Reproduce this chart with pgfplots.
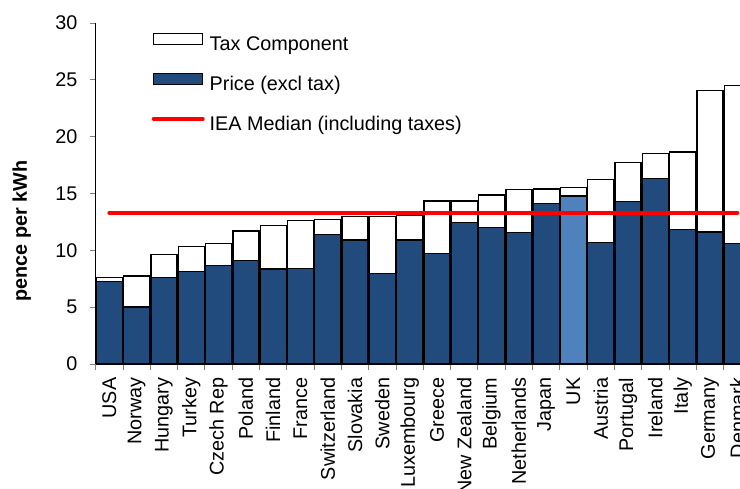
\documentclass[border=0pt]{standalone}
\usepackage{pgfplots}
\usepackage{pgfplotstable}
\pgfplotsset{compat=1.18}
\usepackage{fontspec}
\setmainfont{Liberation Sans}
\newcommand{\chartfont}{\fontsize{19.8bp}{24bp}\selectfont}
\definecolor{darkblue}{RGB}{33,74,125}
\definecolor{ukblue}{RGB}{79,129,189}
\definecolor{tickgray}{RGB}{128,128,128}

% idx price tax (pence per kWh)
\pgfplotstableread{
idx price tax
0  7.24 0.38
1  5.01 2.73
2  7.59 2.06
3  8.12 2.20
4  8.65 1.96
5  9.12 2.58
6  8.36 3.83
7  8.42 4.19
8  11.41 1.32
9  10.91 2.05
10 7.97 4.99
11 10.91 2.19
12 9.73 4.61
13 12.46 1.88
14 11.99 2.87
15 11.58 3.78
16 14.13 1.26
17 14.78 0.76
18 10.67 5.57
19 14.30 3.41
20 16.33 2.20
21 11.84 6.81
22 11.61 12.43
23 10.61 13.87
}\pricedata

\begin{document}
\begin{tikzpicture}
\useasboundingbox (-95.7bp,-125bp) rectangle (644.3bp,364bp);
\clip (-95.7bp,-125bp) rectangle (644.3bp,364bp);
\begin{axis}[
  at={(0,0)}, anchor=south west,
  scale only axis,
  width=655.2bp, height=341bp,
  xmin=-0.5, xmax=23.5, ymin=0, ymax=30,
  axis x line*=bottom, axis y line*=left,
  axis line style={black, line width=0.9bp},
  tick style={tickgray, line width=0.9bp},
  major tick length=6bp,
  tick align=outside,
  ytick={0,5,...,30},
  xtick={-0.5,0.5,...,23.5},
  x tick label as interval,
  xticklabels={USA,Norway,Hungary,Turkey,Czech Rep,Poland,Finland,France,Switzerland,Slovakia,Sweden,Luxembourg,Greece,New Zealand,Belgium,Netherlands,Japan,UK,Austria,Portugal,Ireland,Italy,Germany,Denmark},
  xticklabel style={rotate=90, anchor=east, inner sep=0pt, font=\chartfont},
  xticklabel shift=7.5bp,
  yticklabel style={inner sep=0pt, font=\chartfont},
  yticklabel shift=12bp,
  /pgf/number format/assume math mode=true,
  ylabel={pence per kWh},
  every axis y label/.style={at={(rel axis cs:0,0.3906)}, xshift=-74bp, rotate=90, anchor=center, font=\chartfont\bfseries},
  legend style={at={(0.0855,0.974)}, anchor=north west, draw=none, fill=none,
    inner sep=0pt, outer sep=0pt, row sep=17bp,
    nodes={inner sep=0pt, text height=14bp, text depth=4bp, font=\chartfont},
    /tikz/every odd column/.append style={column sep=5bp}},
  legend cell align=left,
]
\addlegendimage{legend image code/.code={\path[draw=none, fill=none] (0bp,-4bp) rectangle (49bp,14bp); \draw[black, fill=white, line width=1.3bp] (0bp,1.6bp) rectangle (49bp,12.6bp);}}
\addlegendentry{Tax Component}
\addlegendimage{legend image code/.code={\path[draw=none, fill=none] (0bp,-4bp) rectangle (49bp,14bp); \draw[black, fill=darkblue, line width=1.3bp] (0bp,1.6bp) rectangle (49bp,12.6bp);}}
\addlegendentry{Price (excl tax)}
\addlegendimage{legend image code/.code={\path[draw=none, fill=none] (0bp,-4bp) rectangle (49bp,14bp); \draw[red, line width=4bp, line cap=round] (0bp,7bp) -- (49bp,7bp);}}
\addlegendentry{IEA Median (including taxes)}

% total = price + tax (white, tax component shows above price)
\addplot[ybar, bar width=26bp, bar shift=0pt, fill=white, draw=black, line width=1.3bp, forget plot]
  table[x=idx, y expr=\thisrow{price}+\thisrow{tax}] {\pricedata};
\addplot[ybar, bar width=26bp, bar shift=0pt, fill=darkblue, draw=black, line width=1.3bp, forget plot]
  table[x=idx, y=price] {\pricedata};
\addplot[ybar, bar width=26bp, bar shift=0pt, fill=ukblue, draw=black, line width=1.3bp, forget plot]
  coordinates {(17,14.78)};
\addplot[red, line width=4bp, line cap=round, sharp plot, mark=none, forget plot]
  coordinates {(0,13.31) (23,13.31)};
\end{axis}
\end{tikzpicture}
\end{document}
